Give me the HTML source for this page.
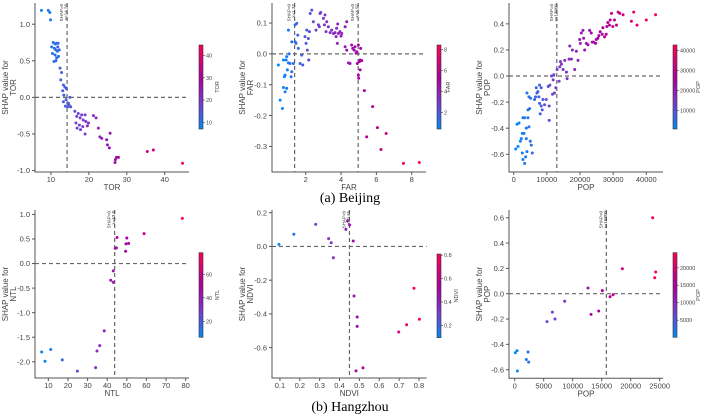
<!DOCTYPE html>
<html><head><meta charset="utf-8"><style>
html,body{margin:0;padding:0;background:#fff;}
svg{display:block;font-family:"Liberation Sans",sans-serif;}
.tk{fill:#444;}
.cap{font-family:"Liberation Serif",serif;font-size:14px;fill:#000;}
</style></head><body>
<svg id="chart" width="703" height="416" viewBox="0 0 703 416"></svg>
<script>
// ---- data ----
const torX=[7.5,9.3,9.7,9.9,10.6,11.1,11.5,11.9,10.9,11.3,11.7,12.2,10.4,11.1,11.5,12.0,10.8,11.3,10.2,11.8,12.4,12.8,12.6,13.3,13.7,13.1,14.1,13.4,14.0,14.6,15.0,13.3,13.8,14.4,14.8,15.2,16.3,17.2,18.1,16.8,17.7,18.5,16.6,17.5,18.4,19.2,19.9,16.9,17.8,19.0,19.6,21.2,21.9,19.0,22.5,22.9,23.4,24.7,25.6,24.9,25.4,27.0,27.3,26.9,27.8,35.4,37.0,44.7];
const torY=[1.19,1.19,1.16,1.06,0.75,0.73,0.74,0.74,0.67,0.65,0.63,0.65,0.60,0.58,0.54,0.56,0.49,0.50,0.69,0.69,0.40,0.34,0.24,0.17,0.14,0.09,0.12,0.03,-0.03,-0.08,0.0,-0.06,-0.12,-0.13,-0.11,-0.13,-0.19,-0.22,-0.24,-0.26,-0.28,-0.31,-0.35,-0.38,-0.40,-0.33,-0.35,-0.42,-0.44,-0.24,-0.39,-0.25,-0.28,-0.50,-0.42,-0.54,-0.56,-0.58,-0.49,-0.65,-0.69,-0.85,-0.82,-0.89,-0.82,-0.74,-0.72,-0.90];
const farX=[0.45,0.55,0.68,0.74,0.79,0.83,0.89,0.92,0.96,1.02,1.06,1.11,1.17,1.21,0.92,0.83,0.74,1.02,1.21,1.30,1.40,1.49,1.40,1.55,1.45,1.58,1.68,1.77,1.83,1.96,2.06,2.15,2.02,2.09,2.17,2.25,2.34,2.43,2.21,
2.58,2.72,2.81,2.77,2.85,3.0,3.09,3.06,3.15,3.19,3.28,3.38,3.47,3.57,3.66,3.75,3.81,3.72,3.85,3.94,4.04,3.79,4.0,4.23,4.32,
4.23,4.32,4.42,4.51,4.6,4.66,4.74,4.79,4.85,4.89,4.98,5.04,5.08,5.11,5.17,4.92,4.98,5.0,5.08,5.32,5.45,5.79,6.06,6.26,6.55,7.53,8.43];
const farY=[-0.036,-0.150,-0.177,-0.020,-0.074,-0.069,-0.020,-0.009,-0.052,-0.029,0.0,-0.031,-0.074,-0.058,-0.112,-0.123,-0.109,0.077,0.039,-0.031,0.094,0.099,0.039,0.061,0.034,0.018,-0.031,-0.004,-0.036,0.056,0.077,0.050,0.034,0.012,-0.020,0.131,0.142,0.104,0.072,
0.077,0.094,0.131,0.088,0.134,0.115,0.126,0.094,0.072,0.104,0.088,0.069,0.077,0.066,0.069,0.083,0.097,0.056,0.066,0.072,0.066,0.034,0.058,0.088,0.104,
0.023,0.012,-0.029,-0.031,0.029,0.018,0.012,0.023,0.002,0.007,0.029,-0.025,-0.020,0.018,-0.022,-0.031,-0.069,-0.079,-0.052,-0.119,-0.269,-0.171,-0.239,-0.310,-0.258,-0.355,-0.352];
const popX=[600,1300,1000,1600,2000,2300,2600,2800,3100,2600,2800,3300,3600,3800,4000,4300,3800,4300,4600,3300,4000,4800,4600,5000,5300,5600,5100,6300,6800,7000,6600,7300,7600,7800,8000,8300,8600,8800,8300,9300,9800,7800,10400,10900,11400,10700,11700,10700,11900,12100,12300,12700,
13100,13700,13900,14100,14400,14900,15400,15900,16100,16700,16900,17400,17700,18400,18900,19400,19900,20100,20400,20900,21100,21400,21900,22400,22900,23400,23700,24100,24700,24900,25400,25700,26100,26700,26900,27400,27900,28100,28400,28900,29100,29500,29900,30400,31000,31500,32000,33000,35500,36200,37200,40000,42800];
const popY=[-0.56,-0.54,-0.37,-0.36,-0.50,-0.48,-0.44,-0.32,-0.44,-0.59,-0.64,-0.67,-0.62,-0.48,-0.13,-0.26,-0.40,-0.32,-0.39,-0.32,-0.58,-0.25,-0.16,-0.50,-0.53,-0.59,-0.17,-0.18,-0.09,-0.13,-0.16,-0.12,-0.16,-0.21,-0.29,-0.09,-0.26,-0.18,-0.23,-0.22,-0.18,-0.07,-0.08,-0.07,0.0,-0.23,-0.14,-0.34,-0.03,0.01,-0.13,-0.09,
0.05,-0.04,0.07,0.11,0.09,0.05,0.12,0.03,-0.02,0.13,0.23,0.13,0.20,0.05,0.19,0.12,0.28,0.25,0.33,0.35,0.29,0.20,0.25,0.24,0.35,0.33,0.26,0.26,0.25,0.28,0.29,0.31,0.34,0.32,0.37,0.30,0.32,0.38,0.41,0.39,0.43,0.48,0.38,0.43,0.39,0.49,0.48,0.47,0.42,0.49,0.39,0.43,0.47];
const ntlX=[6.6,8.3,11.2,17.1,24.8,34.1,34.8,36.2,38.5,41.8,43.1,43.1,44.1,44.7,45.0,49.4,49.6,50.0,50.9,58.8,78.3];
const ntlY=[-1.80,-1.99,-1.75,-1.96,-2.19,-2.12,-1.78,-1.67,-1.37,-0.34,-0.38,-0.15,0.31,0.32,0.53,0.25,0.40,0.52,0.41,0.61,0.92];
const ndviX=[0.095,0.17,0.28,0.345,0.358,0.369,0.432,0.44,0.451,0.469,0.473,0.489,0.489,0.483,0.518,0.698,0.738,0.775,0.802];
const ndviY=[0.012,0.072,0.131,0.046,0.022,-0.067,0.101,0.151,0.127,0.032,-0.294,-0.418,-0.474,-0.738,-0.720,-0.507,-0.464,-0.248,-0.432];
const hpopX=[100,400,460,2000,2300,2400,5570,6500,6950,8620,12640,13160,14480,15110,16440,16950,18560,23790,24140,24310];
const hpopY=[-0.466,-0.45,-0.61,-0.52,-0.46,-0.54,-0.22,-0.145,-0.20,-0.06,0.045,-0.163,-0.137,0.024,-0.024,-0.008,0.197,0.6,0.126,0.171];
const ticksX1=[10,20,30,40], ticksY1=[-1.0,-0.5,0.0,0.5,1.0], cb1=[10,20,30,40];
const ticksX2=[2,4,6,8], ticksY2=[-0.3,-0.2,-0.1,0.0,0.1], cb2=[2,4,6,8];
const ticksX3=[0,10000,20000,30000,40000], ticksY3=[-0.6,-0.4,-0.2,0.0,0.2,0.4], cb3=[10000,20000,30000,40000];
const ticksX4=[10,20,30,40,50,60,70,80], ticksY4=[-2.0,-1.5,-1.0,-0.5,0.0,0.5,1.0], cb4=[20,40,60];
const ticksX5=[0.1,0.2,0.3,0.4,0.5,0.6,0.7,0.8], ticksY5=[-0.6,-0.4,-0.2,0.0,0.2], cb5=[0.2,0.4,0.6,0.8];
const ticksX6=[0,5000,10000,15000,20000,25000], ticksY6=[-0.6,-0.4,-0.2,0.0,0.2,0.4,0.6], cb6=[5000,10000,15000,20000];

const NS="http://www.w3.org/2000/svg";
const svg=document.getElementById('chart');
function mk(tag,attrs,parent,text){const e=document.createElementNS(NS,tag);for(const k in attrs)e.setAttribute(k,attrs[k]);if(text!==undefined)e.textContent=text;(parent||svg).appendChild(e);return e;}
const CM=[[0,[0,138,250]],[0.3,[120,60,205]],[0.6,[170,0,160]],[1,[255,0,82]]];
function cmap(t){t=Math.max(0,Math.min(1,t));
 for(let i=1;i<CM.length;i++){if(t<=CM[i][0]){const a=CM[i-1],b=CM[i];const u=(t-a[0])/(b[0]-a[0]);
  return 'rgb('+a[1].map((v,k)=>Math.round(v+(b[1][k]-v)*u)).join(',')+')';}}
 return 'rgb(255,0,82)';}
function fmt(v,dec){return dec===0?String(v):v.toFixed(dec);}

function panel(o){
 const g=mk('g',{});
 
 
 const sx=v=>o.L+(v-o.xd[0])/(o.xd[1]-o.xd[0])*(o.R-o.L);
 const sy=v=>o.T+(o.yd[0]-v)/(o.yd[0]-o.yd[1])*(o.B-o.T);
 const ax=mk('path',{d:`M${o.L},${o.T}V${o.B}H${o.R}`,fill:'none',stroke:'#555','stroke-width':1},g);
 
 
 o.tx.forEach(v=>{const x=sx(v);mk('line',{x1:x,x2:x,y1:o.B,y2:o.B+3,stroke:'#555'},g);
  const t=mk('text',{x:x,y:o.B+10,'text-anchor':'middle',class:'tk',style:'font-size:7.5px'},g,fmt(v,o.xdec));
  });
 o.ty.forEach(v=>{const y=sy(v);mk('line',{x1:o.L-3,x2:o.L,y1:y,y2:y,stroke:'#555'},g);
  const t=mk('text',{x:o.L-5,y:y+2.7,'text-anchor':'end',class:'tk',style:'font-size:7.5px'},g,fmt(v,o.ydec));
  });
 const xl=mk('text',{x:(o.L+o.R)/2,y:o.B+18,'text-anchor':'middle',class:'tk',style:'font-size:8px'},g,o.feat);
 
 const cy=(o.T+o.B)/2;
 const yl=mk('text',{transform:`translate(${o.yl},${cy}) rotate(-90)`,'text-anchor':'middle',class:'tk',style:'font-size:8px'},g);
 
 mk('tspan',{x:0,dy:0},yl,'SHAP value for');mk('tspan',{x:0,dy:8},yl,o.feat);
 const hz=mk('line',{x1:o.L,x2:o.R,y1:sy(0),y2:sy(0),stroke:'#666','stroke-width':1.2,'stroke-dasharray':'4,3'},g);
 
 o.vl.forEach(v=>{const x=sx(v);
  const vv=mk('line',{x1:x,x2:x,y1:o.T,y2:o.B,stroke:'#666','stroke-width':1.2,'stroke-dasharray':'4,3'},g);
  
  const lt=mk('text',{transform:`translate(${x-1.5},${o.T+1}) rotate(-90)`,'text-anchor':'end',style:'font-size:4.5px',fill:'#333'},g);
  
  mk('tspan',{x:0,dy:-2.5},lt,'SHAP=0');mk('tspan',{x:0,dy:4.5},lt,'x='+v);});
 o.xs.forEach((v,i)=>{const c=mk('circle',{cx:sx(v),cy:sy(o.ys[i]),r:1.5,fill:cmap((v-o.cd[0])/(o.cd[1]-o.cd[0]))},g);
  });
 const gid='grad-'+o.name;const defs=mk('defs',{},g);const lg=mk('linearGradient',{id:gid,x1:0,y1:1,x2:0,y2:0},defs);
 for(let k=0;k<=10;k++)mk('stop',{offset:k/10,'stop-color':cmap(k/10)},lg);
 const cb=mk('rect',{x:o.cbx,y:o.cbT,width:4,height:o.cbB-o.cbT,fill:`url(#${gid})`,stroke:'#333','stroke-width':0.6},g);
 
 const cyv=v=>o.cbB-(v-o.cd[0])/(o.cd[1]-o.cd[0])*(o.cbB-o.cbT);
 o.cbt.forEach(v=>{const y=cyv(v);mk('line',{x1:o.cbx+4,x2:o.cbx+6,y1:y,y2:y,stroke:'#444','stroke-width':0.6},g);
  const t=mk('text',{x:o.cbx+7,y:y+2,class:'tk',style:'font-size:5.5px'},g,fmt(v,o.cbdec));
  });
 const cl=mk('text',{transform:`translate(${o.cbl},${(o.cbT+o.cbB)/2}) rotate(-90)`,'text-anchor':'middle',class:'tk',style:'font-size:5.5px'},g,o.feat);
 
}
panel({name:'tor',feat:'TOR',L:35,R:189,T:3,B:172,xd:[5.8,46.4],yd:[1.29,-1.02],tx:ticksX1,ty:ticksY1,xdec:0,ydec:1,xs:torX,ys:torY,vl:[14.26],cd:[7,44.7],cbx:199,cbT:45,cbB:129,cbt:cb1,cbdec:0,cbl:219,yl:8});
panel({name:'far',feat:'FAR',L:272,R:426,T:3,B:172,xd:[0.09,8.81],yd:[0.165,-0.383],tx:ticksX2,ty:ticksY2,xdec:0,ydec:1,xs:farX,ys:farY,vl:[1.37,4.97],cd:[0.45,8.43],cbx:437,cbT:45,cbB:129,cbt:cb2,cbdec:0,cbl:450,yl:245});
panel({name:'pop-beijing',feat:'POP',L:509,R:663,T:3,B:172,xd:[-1420,45040],yd:[0.56,-0.736],tx:ticksX3,ty:ticksY3,xdec:0,ydec:1,xs:popX,ys:popY,vl:[13000],cd:[600,42800],cbx:673,cbT:45,cbB:129,cbt:cb3,cbdec:0,cbl:700,yl:482});
panel({name:'ntl',feat:'NTL',L:35,R:189,T:210,B:378,xd:[3.2,81.7],yd:[1.09,-2.33],tx:ticksX4,ty:ticksY4,xdec:0,ydec:1,xs:ntlX,ys:ntlY,vl:[43.8],cd:[6.6,78.3],cbx:199,cbT:252.7,cbB:337.3,cbt:cb4,cbdec:0,cbl:219,yl:8});
panel({name:'ndvi',feat:'NDVI',L:272,R:426.7,T:210,B:378,xd:[0.06,0.839],yd:[0.216,-0.78],tx:ticksX5,ty:ticksY5,xdec:1,ydec:1,xs:ndviX,ys:ndviY,vl:[0.45],cd:[0.095,0.81],cbx:437,cbT:254,cbB:337.7,cbt:cb5,cbdec:1,cbl:458,yl:245});
panel({name:'pop-hangzhou',feat:'POP',L:509,R:663,T:210,B:378.3,xd:[-983,25570],yd:[0.661,-0.668],tx:ticksX6,ty:ticksY6,xdec:0,ydec:1,xs:hpopX,ys:hpopY,vl:[15800],cd:[100,24310],cbx:673,cbT:252.7,cbB:337.3,cbt:cb6,cbdec:0,cbl:700,yl:482});
const c1=mk('text',{x:350,y:202,'text-anchor':'middle',class:'cap'},svg,'(a) Beijing');

const c2=mk('text',{x:350,y:411,'text-anchor':'middle',class:'cap'},svg,'(b) Hangzhou');

</script>
</body></html>
